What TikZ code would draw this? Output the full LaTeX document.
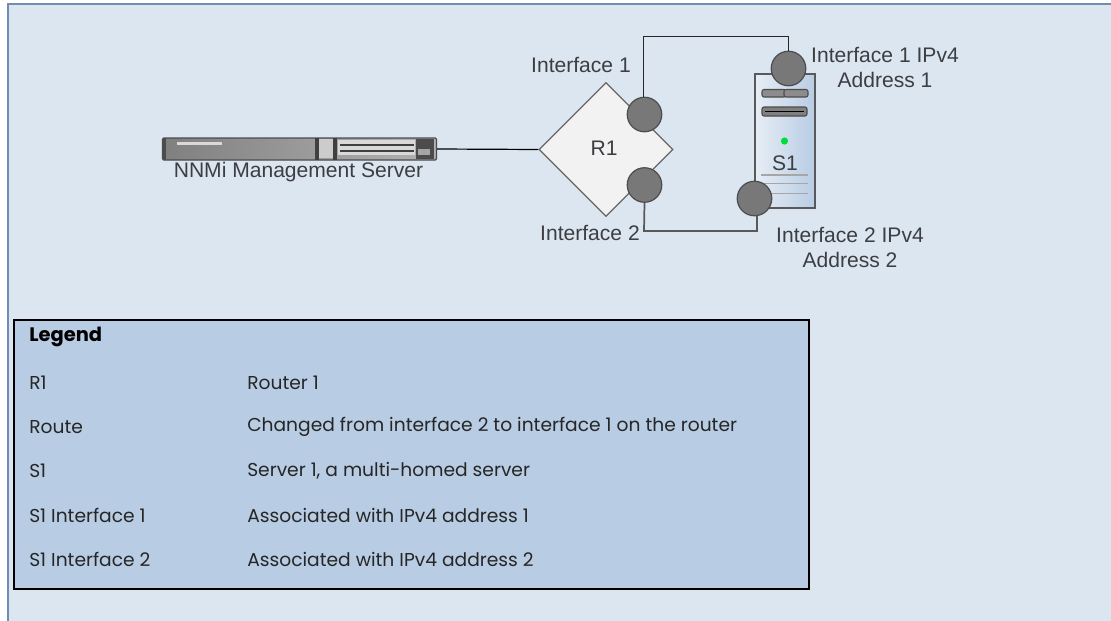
\documentclass[tikz,border=0pt]{standalone}
\usepackage{fontspec}
\setmainfont{Liberation Sans}
\newfontfamily\legendfont{Poppins}
\usetikzlibrary{calc,shapes.geometric}
\definecolor{pagebg}{RGB}{220,230,241}
\definecolor{pageline}{RGB}{110,140,180}
\definecolor{legendbg}{RGB}{184,204,228}
\definecolor{labelgray}{RGB}{60,62,66}
\definecolor{portgray}{RGB}{120,120,120}
\definecolor{ledgreen}{RGB}{0,220,60}
\tikzset{
  lbl/.style={text=labelgray,font=\fontsize{15.8}{18.75}\selectfont,align=center,inner sep=0pt},
  legtext/.style={anchor=west,inner sep=0pt,text=black!85,font=\legendfont\fontsize{14}{16}\selectfont},
  port/.style={circle,draw=black!70,line width=0.9pt,fill=portgray,minimum size=25.9pt,inner sep=0pt},
  slot/.style={rounded corners=1.5,draw=black!70,line width=0.8pt}
}
\begin{document}
\begin{tikzpicture}[x=0.75pt,y=-0.75pt]
  \useasboundingbox (0,0) rectangle (1111,621);
  \fill [pagebg] (8,4) rectangle (1111,621);
  \draw [pageline,line width=0.9pt] (8,621) -- (8,4) -- (1111,4);
  % management server
  \node (srv) [rectangle,rounded corners=1,draw=black!70,line width=0.9pt,left color=black!50,right color=black!30,
    minimum width=205.5pt,minimum height=16.5pt,inner sep=0pt] at (299.5,149) {};
  \fill [black!70] (163,138) rectangle (166,160);
  \fill [black!15] (177,141.5) rectangle (222,144.5);
  \fill [black!75] (315,138) rectangle (319,160);
  \fill [black!20] (319,139) rectangle (333,158);
  \fill [black!75] (333,138) rectangle (337,160);
  \fill [black!15] (338,140) rectangle (415,155);
  \draw [black!75,line width=0.8pt] (340,145) -- (414,145) (340,151) -- (414,151);
  \fill [black!70] (416,139) rectangle (434,159);
  \fill [black!35] (418,149) rectangle (430,155);
  \node (srvlbl) [lbl] at (298.5,172) {NNMi Management Server};
  % router
  \node (rtr) [diamond,aspect=1,draw=black!60,line width=0.9pt,fill=black!5,minimum size=100.5pt,inner sep=0pt] at (606,149.5) {};
  \node (rtrlbl) [lbl] at (604,148) {R1};
  % multi-homed server
  \node (hst) [rectangle,draw=black!65,line width=1.4pt,left color=pagebg!70!white,right color=legendbg,
    minimum width=45pt,minimum height=100.5pt,inner sep=0pt] at (785,141) {};
  \draw [slot,fill=black!45] (762,89.5) rectangle (786,97);
  \draw [slot,fill=black!45] (784,89.5) rectangle (808,97);
  \draw [slot,fill=black!50] (762,107) rectangle (807,116);
  \draw [black,line width=0.9pt] (765,111.5) -- (804,111.5);
  \fill [ledgreen] (784.5,141) circle (3.6);
  \node (hstlbl) [lbl] at (785,163) {S1};
  \foreach \ypos in {175,183.5,193.5}
    \draw [black!35,line width=0.8pt] (761,\ypos) -- (808,\ypos);
  % ports
  \node (ifa) [port] at (644.5,114.5) {};
  \node (ifb) [port] at (644.5,185) {};
  \node (hsta) [port] at (788.5,68.5) {};
  \node (hstb) [port] at (754.5,198.5) {};
  % links
  \coordinate (topbend) at (643.5,36.5);
  \coordinate (botbend) at (644,231);
  \coordinate (hstbend) at (757,215.5);
  \draw [black,line width=0.9pt] (srv.east) -- (rtr.west);
  \draw [black!85,line width=1pt] (ifa.north -| topbend) -- (topbend) -| (hsta.north);
  \draw [black!65,line width=1.3pt] (ifb.south) -- (botbend) -| (hstbend);
  % labels
  \node (ifalbl) [lbl] at (581,65) {Interface 1};
  \node (ifblbl) [lbl] at (590,233) {Interface 2};
  \node (hstalbl) [lbl] at (885,67.5) {Interface 1 IPv4\\Address 1};
  \node (hstblbl) [lbl] at (850,247.5) {Interface 2 IPv4\\Address 2};
  % legend
  \node (legbox) [rectangle,draw=black,line width=1.1pt,fill=legendbg,minimum width=596.25pt,minimum height=201.75pt,inner sep=0pt] at (411.5,454.5) {};
  \node (leghead) [legtext,font=\legendfont\bfseries\fontsize{14.6}{16}\selectfont,text=black] at (29,337) {Legend};
  \node (rowa) [legtext] at (29,383) {R1};
  \node (rowb) [legtext] at (29,427) {Route};
  \node (rowc) [legtext] at (29,471) {S1};
  \node (rowd) [legtext] at (29,515) {S1 Interface 1};
  \node (rowe) [legtext] at (29,559) {S1 Interface 2};
  \node (desca) [legtext] at (247,383) {Router 1};
  \node (descb) [legtext] at (247,427) {Changed from interface 2 to interface 1 on the router};
  \node (descc) [legtext] at (247,471) {Server 1, a multi-homed server};
  \node (descd) [legtext] at (247,515) {Associated with IPv4 address 1};
  \node (desce) [legtext] at (247,559) {Associated with IPv4 address 2};
\end{tikzpicture}
\end{document}
